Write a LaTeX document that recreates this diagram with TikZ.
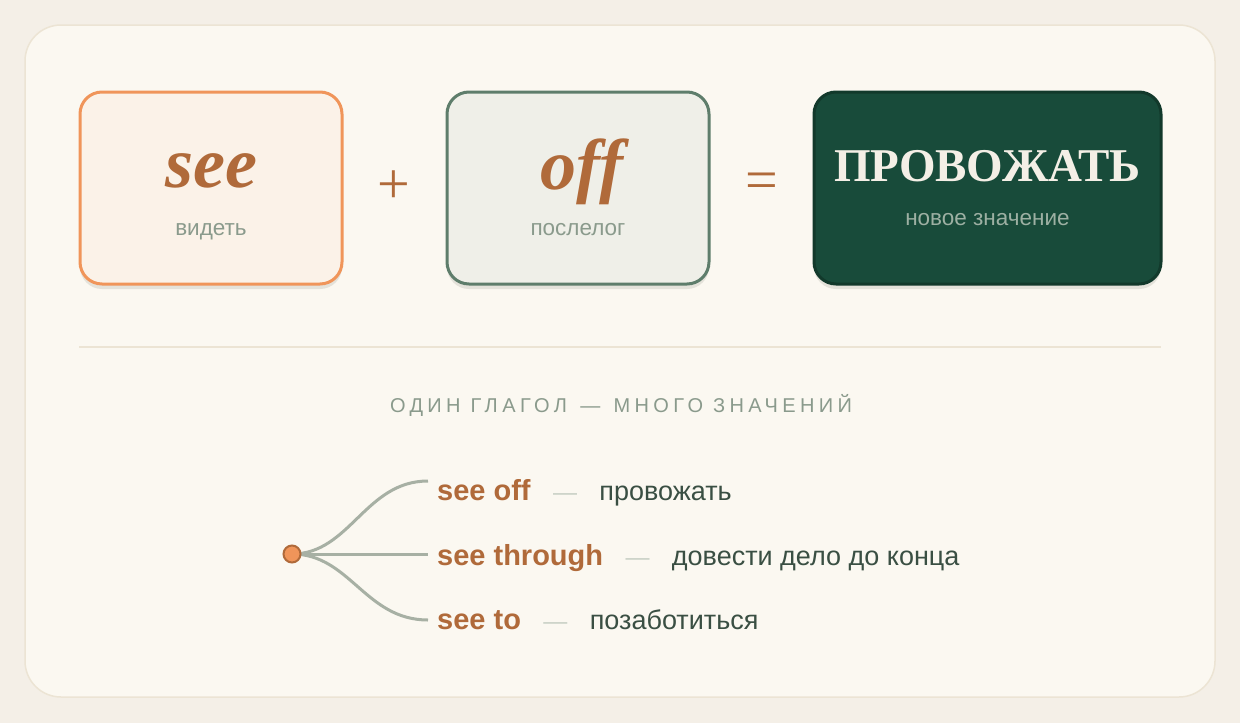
\documentclass[tikz,border=0pt]{standalone}
\usepackage{fontspec}
\setmainfont{Liberation Serif}
\setsansfont{Liberation Sans}
\newfontfamily\spacedsans[LetterSpace=22]{Liberation Sans}
\usepackage{tikz}
\definecolor{pagebg}{HTML}{F4EFE7}
\definecolor{cardbg}{HTML}{FBF8F1}
\definecolor{cardline}{HTML}{ECE4D4}
\definecolor{rust}{HTML}{B06A3A}
\definecolor{peach}{HTML}{F0955A}
\definecolor{peachbg}{HTML}{FBF2E8}
\definecolor{sage}{HTML}{5E7D6B}
\definecolor{sagebg}{HTML}{EFEFE8}
\definecolor{pine}{HTML}{184B3A}
\definecolor{pineline}{HTML}{12392B}
\definecolor{cream}{HTML}{F4EFE6}
\definecolor{mutegray}{HTML}{8A9A8C}
\definecolor{mutegreen}{HTML}{9DB0A3}
\definecolor{branch}{HTML}{A7B0A4}
\definecolor{dashgray}{HTML}{C9D0C6}
\definecolor{inkgreen}{HTML}{3A4F43}
\definecolor{shadowc}{HTML}{E4E2DA}
\tikzset{
  wordbox/.style={rounded corners=22pt, minimum height=192pt, line width=3pt},
  boxshadow/.style={fill=shadowc, rounded corners=22pt, minimum height=192pt, draw=none},
  bigword/.style={font=\bfseries\itshape\fontsize{72}{72}\selectfont, text=rust, anchor=base},
  subword/.style={font=\sffamily\fontsize{22.5}{22.5}\selectfont, anchor=base},
  sign/.style={font=\fontsize{58}{58}\selectfont, text=rust},
  phrasal/.style={font=\sffamily\bfseries\fontsize{29}{29}\selectfont, text=rust, anchor=base west, inner sep=0pt},
  gap/.style={font=\sffamily\fontsize{24}{24}\selectfont, text=dashgray, anchor=base west, inner sep=0pt},
  meaning/.style={font=\sffamily\fontsize{27}{27}\selectfont, text=inkgreen, anchor=base west, inner sep=0pt},
  twig/.style={draw=branch, line width=3pt}
}
\begin{document}
\begin{tikzpicture}[x=1pt,y=-1pt]
\fill[pagebg] (0,0) rectangle (1240,723);
\useasboundingbox (0,0) rectangle (1240,723);
\draw[cardline, fill=cardbg, line width=1.5pt, rounded corners=36pt] (25,25) rectangle (1215,697);

% top row: word + particle = meaning
\node[boxshadow, minimum width=262pt] at (211,193) {};
\node[boxshadow, minimum width=262pt] at (578,193) {};
\node[boxshadow, minimum width=347pt] at (987.5,193) {};
\node[wordbox, minimum width=262pt, draw=peach, fill=peachbg] (see) at (211,188) {};
\node[wordbox, minimum width=262pt, draw=sage, fill=sagebg] (off) at (578,188) {};
\node[wordbox, minimum width=347pt, draw=pineline, fill=pine] (result) at (987.5,188) {};
\node[bigword] (seeword) at (211,187) {see};
\node[subword, text=mutegray] (seesub) at (211,235) {видеть};
\node[bigword] (offword) at (582,189) {off};
\node[subword, text=mutegray] (offsub) at (578,235) {послелог};
\node[font=\bfseries\fontsize{47}{47}\selectfont, text=cream, anchor=base] (resword) at (987.5,181) {ПРОВОЖАТЬ};
\node[subword, text=mutegreen] (ressub) at (987.5,225) {новое значение};
\node[sign] (plus) at (394,187) {+};
\node[sign] (equals) at (762,186) {=};

\draw[cardline, line width=1.5pt] (79,347) -- (1161,347);
\node[font=\spacedsans\fontsize{20}{20}\selectfont, text=mutegray, anchor=base] (header) at (621,412) {ОДИН ГЛАГОЛ \,—\, МНОГО ЗНАЧЕНИЙ};

% branches
\coordinate (endA) at (428,481);
\coordinate (endB) at (428,554);
\coordinate (endC) at (428,620);
\node[circle, minimum size=18pt, inner sep=0pt] (root) at (292,554) {};
\draw[twig] (root.center) .. controls (350,554) and (365,481) .. (endA);
\draw[twig] (root.center) -- (endB);
\draw[twig] (root.center) .. controls (350,554) and (365,620) .. (endC);
\node[circle, minimum size=17pt, inner sep=0pt, fill=peach, draw=rust, line width=2pt] at (root) {};

\node[phrasal] (pvA) at (437,500) {see off};
\node[gap] (dA) at ([xshift=22pt]pvA.base east) {—};
\node[meaning] (mA) at ([xshift=22pt]dA.base east) {провожать};
\node[phrasal] (pvB) at (437,565) {see through};
\node[gap] (dB) at ([xshift=22pt]pvB.base east) {—};
\node[meaning] (mB) at ([xshift=22pt]dB.base east) {довести дело до конца};
\node[phrasal] (pvC) at (437,629) {see to};
\node[gap] (dC) at ([xshift=22pt]pvC.base east) {—};
\node[meaning] (mC) at ([xshift=22pt]dC.base east) {позаботиться};
\end{tikzpicture}
\end{document}
